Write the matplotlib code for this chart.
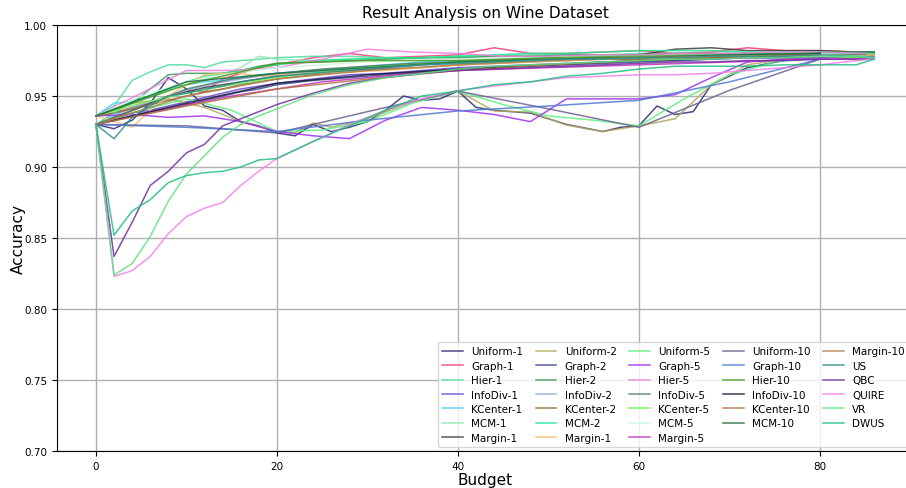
import matplotlib.pyplot as plt
from matplotlib.ticker import FormatStrFormatter

# budget grids
b_fine = [0, 2, 4, 6, 8, 10, 12, 14, 16, 18, 20, 24, 28, 32, 36, 40, 44, 48, 52, 56, 60, 64, 68, 72, 76, 80, 84, 86]
b_5 = [0, 5, 10, 15, 20, 25, 30, 35, 40, 45, 50, 55, 60, 65, 70, 75, 80, 85]
b_10 = [0, 10, 20, 30, 40, 50, 60, 70, 80]

# --- batch size 1 ---
uniform_1_x = [0, 2, 4, 6, 8, 10, 12, 14, 16, 18, 20, 22, 24, 26, 28, 30, 32, 34, 36, 38, 40, 42, 44, 48, 52, 56, 58, 60,
               62, 64, 66, 68, 72, 76, 78, 80, 84, 86]
uniform_1 = [.930, .927, .933, .945, .963, .955, .943, .940, .932, .929, .924, .922, .930, .925, .928, .932, .940, .950,
             .947, .948, .9535, .942, .940, .938, .930, .925, .928, .929, .943, .937, .939, .958, .970, .975, .980, .981,
             .981, .981]
graph_1 = [.936, .938, .942, .945, .950, .954, .953, .962, .966, .970, .972, .977, .980, .977, .978, .979, .984, .980,
           .980, .981, .982, .980, .981, .984, .982, .982, .981, .980]
hier_1 = [.936, .943, .961, .967, .972, .972, .970, .974, .975, .976, .977, .978, .978, .977, .977, .978, .978, .979,
          .979, .979, .980, .980, .980, .980, .980, .980, .979, .979]
infodiv_1 = [.930, .934, .938, .940, .943, .946, .949, .952, .955, .957, .959, .962, .965, .966, .968, .970, .971, .972,
             .973, .974, .975, .975, .976, .977, .977, .977, .978, .978]
kcenter_1 = [.936, .945, .946, .950, .955, .958, .960, .961, .963, .965, .966, .968, .970, .972, .974, .975, .975, .976,
             .976, .977, .978, .978, .978, .979, .979, .979, .978, .976]
mcm_1 = [.936, .940, .947, .950, .954, .958, .962, .965, .970, .978, .976, .975, .976, .977, .977, .978, .978, .978,
         .978, .979, .979, .979, .979, .979, .979, .980, .979, .979]
margin_1 = [.930, .935, .940, .945, .950, .953, .956, .958, .960, .962, .964, .966, .968, .970, .972, .974, .975, .976,
            .977, .978, .979, .983, .984, .982, .982, .982, .981, .981]

# --- batch size 2 ---
uniform_2_x = [0, 4, 8, 12, 16, 20, 22, 24, 26, 30, 35, 40, 44, 48, 52, 56, 60, 64, 68, 72, 76, 80, 84]
uniform_2 = [.936, .945, .948, .942, .932, .925, .924, .931, .928, .934, .946, .9535, .9395, .9387, .9296, .925, .929,
             .934, .958, .972, .976, .978, .978]
graph_2 = [.930, .933, .936, .939, .941, .944, .947, .950, .953, .955, .958, .961, .963, .965, .967, .969, .970, .971,
           .972, .973, .974, .975, .976, .977, .977, .978, .978, .978]
hier_2 = [.936, .940, .945, .955, .965, .966, .966, .966, .968, .971, .973, .974, .975, .976, .977, .977, .978, .978,
          .979, .979, .979, .980, .980, .980, .980, .981, .981, .981]
infodiv_2 = [.930, .936, .942, .946, .950, .954, .957, .960, .962, .964, .965, .967, .969, .970, .972, .973, .974, .975,
             .975, .976, .976, .977, .977, .978, .978, .978, .978, .978]
kcenter_2 = [.936, .938, .941, .944, .947, .950, .953, .955, .958, .960, .962, .965, .967, .969, .970, .972, .973, .974,
             .975, .976, .976, .977, .977, .978, .978, .979, .979, .979]
mcm_2 = [.930, .938, .946, .950, .955, .960, .964, .966, .968, .970, .972, .975, .976, .977, .977, .978, .979, .980,
         .980, .981, .982, .982, .982, .981, .981, .981, .980, .980]
margin_1b = [.936, .932, .928, .940, .950, .958, .965, .966, .966, .964, .965, .966, .967, .968, .970, .972, .973, .974,
             .975, .976, .977, .977, .978, .978, .979, .979, .979, .979]

# --- batch size 5 ---
uniform_5 = [.930, .940, .948, .940, .925, .926, .932, .945, .9535, .944, .936, .933, .929, .948, .965, .974, .977, .977]
graph_5_x = [0, 4, 8, 12, 16, 20, 24, 28, 32, 36, 40, 44, 48, 52, 56, 60, 64, 68, 72, 76, 80, 84, 86]
graph_5 = [.936, .937, .935, .936, .932, .925, .922, .920, .933, .942, .940, .937, .932, .948, .948, .948, .951, .963,
           .974, .976, .977, .977, .9775]
hier_5 = [.936, .952, .968, .968, .970, .976, .983, .981, .980, .978, .978, .979, .979, .980, .980, .981, .981, .980]
infodiv_5 = [.930, .942, .955, .962, .966, .969, .971, .973, .974, .975, .976, .977, .977, .978, .978, .979, .979, .979]
kcenter_5 = [.936, .945, .952, .958, .963, .967, .970, .972, .974, .975, .976, .976, .977, .977, .978, .978, .978, .977]
mcm_5 = [.936, .950, .960, .966, .970, .972, .974, .975, .976, .977, .977, .978, .978, .978, .979, .979, .979, .978]
margin_5 = [.930, .937, .944, .950, .955, .960, .963, .966, .968, .969, .970, .971, .972, .973, .974, .975, .976, .976]

# --- batch size 10 ---
uniform_10 = [.930, .929, .924, .939, .9535, .941, .928, .954, .976]
graph_10 = [.930, .928, .925, .933, .9395, .943, .947, .960, .976]
hier_10 = [.936, .958, .973, .975, .975, .977, .978, .979, .980]
infodiv_10 = [.930, .945, .959, .965, .969, .972, .975, .977, .980]
kcenter_10 = [.930, .943, .955, .962, .968, .972, .975, .977, .979]
mcm_10 = [.936, .960, .966, .970, .974, .976, .977, .979, .980]
margin_10 = [.930, .950, .962, .968, .972, .975, .977, .978, .979]

# --- baselines ---
us = [.930, .920, .935, .943, .950, .952, .955, .957, .960, .962, .964, .966, .968, .970, .972, .973, .974, .975,
      .976, .976, .977, .977, .978, .978, .978, .979, .978, .977]
qbc = [.930, .837, .861, .887, .897, .910, .916, .929, .934, .939, .944, .952, .959, .963, .966, .968, .969, .970,
       .971, .972, .973, .974, .974, .975, .975, .976, .976, .976]
quire = [.930, .823, .827, .837, .853, .865, .871, .875, .887, .897, .906, .918, .930, .940, .948, .954, .957, .960,
         .963, .964, .965, .965, .966, .968, .970, .972, .975, .976]
vr = [.930, .824, .832, .851, .876, .895, .908, .921, .930, .936, .941, .951, .958, .963, .966, .969, .971, .972,
      .973, .974, .975, .976, .976, .977, .977, .978, .978, .977]
dwus = [.930, .852, .869, .877, .889, .894, .896, .897, .900, .905, .906, .918, .929, .940, .950, .9535, .958, .960,
        .964, .966, .969, .971, .971, .971, .972, .972, .972, .976]

series = [
    ('Uniform-1', uniform_1_x, uniform_1, '#2e2a78'),
    ('Graph-1', b_fine, graph_1, '#f23c7c'),
    ('Hier-1', b_fine, hier_1, '#4ddc9c'),
    ('InfoDiv-1', b_fine, infodiv_1, '#6a48d2'),
    ('KCenter-1', b_fine, kcenter_1, '#3ad6f2'),
    ('MCM-1', b_fine, mcm_1, '#8ce8b0'),
    ('Margin-1', b_fine, margin_1, '#3c3c3c'),
    ('Uniform-2', uniform_2_x, uniform_2, '#b0a85c'),
    ('Graph-2', b_fine, graph_2, '#3a4a8e'),
    ('Hier-2', b_fine, hier_2, '#3a9a58'),
    ('InfoDiv-2', b_fine, infodiv_2, '#8aa8d8'),
    ('KCenter-2', b_fine, kcenter_2, '#8a6a30'),
    ('MCM-2', b_fine, mcm_2, '#1ee890'),
    ('Margin-1', b_fine, margin_1b, '#f8c070'),
    ('Uniform-5', b_5, uniform_5, '#5cf07c'),
    ('Graph-5', graph_5_x, graph_5, '#a030f0'),
    ('Hier-5', b_5, hier_5, '#f07ee0'),
    ('InfoDiv-5', b_5, infodiv_5, '#4e8060'),
    ('KCenter-5', b_5, kcenter_5, '#6cf050'),
    ('MCM-5', b_5, mcm_5, '#ccf8dc'),
    ('Margin-5', b_5, margin_5, '#c030c0'),
    ('Uniform-10', b_10, uniform_10, '#6a6090'),
    ('Graph-10', b_10, graph_10, '#4e78d0'),
    ('Hier-10', b_10, hier_10, '#4a9a22'),
    ('InfoDiv-10', b_10, infodiv_10, '#1a1a40'),
    ('KCenter-10', b_10, kcenter_10, '#b07040'),
    ('MCM-10', b_10, mcm_10, '#207040'),
    ('Margin-10', b_10, margin_10, '#b08050'),
    ('US', b_fine, us, '#309090'),
    ('QBC', b_fine, qbc, '#7030a0'),
    ('QUIRE', b_fine, quire, '#f080f0'),
    ('VR', b_fine, vr, '#60e080'),
    ('DWUS', b_fine, dwus, '#20c080'),
]

fig = plt.figure(figsize=(9.06, 4.89), dpi=100)
ax = fig.add_axes([0.0629, 0.0757, 0.945, 0.871])

for label, x, y, color in series:
    ax.plot(x, y, color=color, linewidth=1.1, alpha=0.85, label=label)

ax.set_xlim(-4.3, 90.3)
ax.set_ylim(0.70, 1.00)
ax.set_xticks([0, 20, 40, 60, 80])
ax.set_yticks([0.70, 0.75, 0.80, 0.85, 0.90, 0.95, 1.00])
ax.yaxis.set_major_formatter(FormatStrFormatter('%.2f'))
ax.tick_params(labelsize=7.5)
ax.grid(True, color='#b0b0b0', linewidth=1)
ax.set_axisbelow(True)

ax.set_title('Result Analysis on Wine Dataset', fontsize=11)
ax.set_xlabel('Budget', fontsize=11, labelpad=1)
ax.set_ylabel('Accuracy', fontsize=11, labelpad=-1)

ax.legend(loc='lower right', ncol=5, fontsize=7.5, handlelength=2.0,
          columnspacing=1.2, labelspacing=0.42, borderaxespad=0.4)

fig.savefig('out.png', dpi=100)
